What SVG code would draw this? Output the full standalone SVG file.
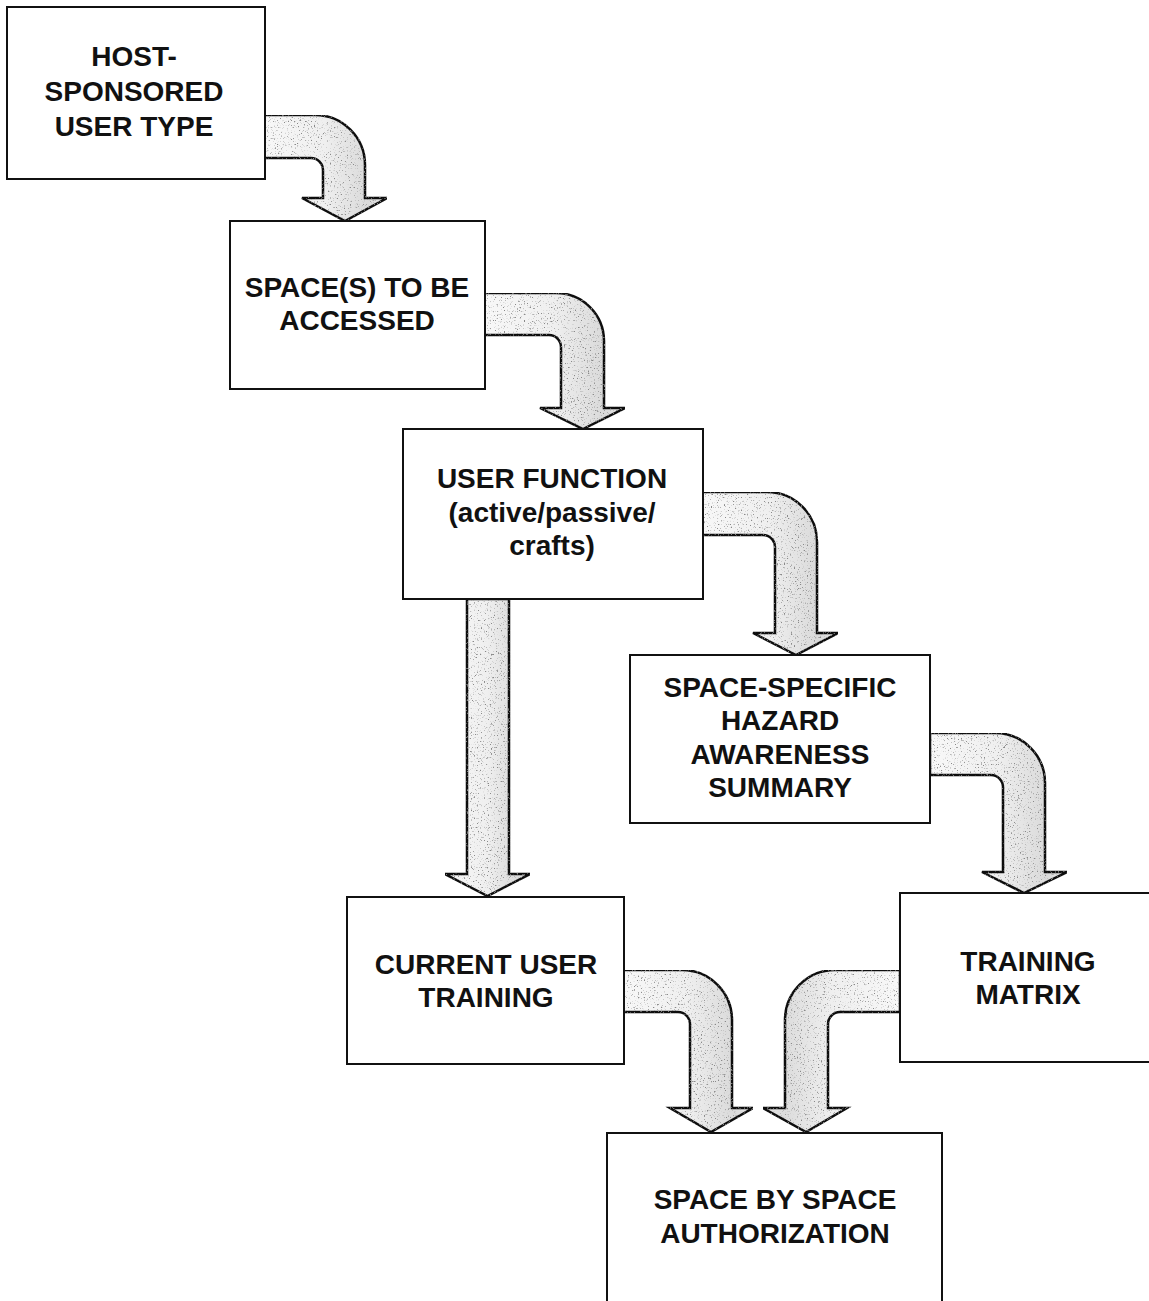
<svg xmlns="http://www.w3.org/2000/svg" width="1149" height="1301" viewBox="0 0 1149 1301">
  <style>
    .box { fill: #ffffff; stroke: #111111; stroke-width: 2; }
    .lbl { font-family: "Liberation Sans", Arial, sans-serif; font-weight: bold; font-size: 28px; fill: #111111; text-anchor: middle; }
    .arrow { stroke: #111111; stroke-width: 2.5; stroke-linejoin: miter; filter: url(#grain); }
    .turnR { fill: url(#shadeR); }
    .turnL { fill: url(#shadeL); }
  </style>
  <defs>
    <!-- shading: lighter where the arrow leaves a box, darker along the outer bend -->
    <linearGradient id="shadeR" x1="0" y1="0" x2="1" y2="0">
      <stop offset="0" stop-color="#f8f8f8"/>
      <stop offset="0.5" stop-color="#efefef"/>
      <stop offset="0.85" stop-color="#dadada"/>
      <stop offset="1" stop-color="#e6e6e6"/>
    </linearGradient>
    <linearGradient id="shadeL" x1="1" y1="0" x2="0" y2="0">
      <stop offset="0" stop-color="#f8f8f8"/>
      <stop offset="0.5" stop-color="#efefef"/>
      <stop offset="0.85" stop-color="#dcdcdc"/>
      <stop offset="1" stop-color="#e6e6e6"/>
    </linearGradient>
    <!-- speckled print texture for the arrow bodies -->
    <filter id="grain" x="0" y="0" width="1" height="1">
      <feTurbulence type="fractalNoise" baseFrequency="0.7" numOctaves="2" seed="7" result="noise"/>
      <feColorMatrix in="noise" type="matrix" values="0 0 0 0 0.25  0 0 0 0 0.25  0 0 0 0 0.25  6 0 0 0 -3.6" result="dots"/>
      <feComposite in="dots" in2="SourceGraphic" operator="in" result="speck"/>
      <feMerge>
        <feMergeNode in="SourceGraphic"/>
        <feMergeNode in="speck"/>
      </feMerge>
    </filter>
  </defs>

  <!-- connectors: broad bent block arrows -->
  <g id="connectors">
    <path id="a1" class="arrow turnR" d="M263 115 H315 A50 50 0 0 1 365 165 V198 H387 L345 221 L302 198 H323 V170 A12 12 0 0 0 311 158 H263 Z"/>
    <path id="a2" class="arrow turnR" d="M484 293 H556 A48 48 0 0 1 604 341 V408 H625 L583 429 L540 408 H561 V347 A12 12 0 0 0 549 335 H484 Z"/>
    <path id="a3" class="arrow turnR" d="M702 492 H767 A50 50 0 0 1 817 542 V633 H838 L796 655 L753 633 H775 V547 A12 12 0 0 0 763 535 H702 Z"/>
    <path id="a4" class="arrow turnR" d="M930 733 H995 A50 50 0 0 1 1045 783 V872 H1067 L1024 893 L982 872 H1003 V787 A12 12 0 0 0 991 775 H930 Z"/>
    <path id="a5" class="arrow turnR" d="M467 599 H509 V874 H530 L487.5 896 L445 874 H467 Z"/>
    <path id="a6" class="arrow turnR" d="M623 970 H682 A50 50 0 0 1 732 1020 V1108 H753 L711 1132 L670 1108 H690 V1024 A12 12 0 0 0 678 1012 H623 Z"/>
    <path id="a7" class="arrow turnL" d="M900 970 H835 A50 50 0 0 0 785 1020 V1108 H763 L806 1132 L847 1108 H828 V1024 A12 12 0 0 1 840 1012 H900 Z"/>
  </g>

  <g id="n-host-sponsored">
    <rect class="box" x="7" y="7" width="258" height="172"/>
    <text class="lbl" x="134" y="66">HOST-</text>
    <text class="lbl" x="134" y="101">SPONSORED</text>
    <text class="lbl" x="134" y="136">USER TYPE</text>
  </g>

  <g id="n-spaces">
    <rect class="box" x="230" y="221" width="255" height="168"/>
    <text class="lbl" x="357" y="297">SPACE(S) TO BE</text>
    <text class="lbl" x="357" y="330">ACCESSED</text>
  </g>

  <g id="n-user-function">
    <rect class="box" x="403" y="429" width="300" height="170"/>
    <text class="lbl" x="552" y="488">USER FUNCTION</text>
    <text class="lbl" x="552" y="522">(active/passive/</text>
    <text class="lbl" x="552" y="555">crafts)</text>
  </g>

  <g id="n-hazard-summary">
    <rect class="box" x="630" y="655" width="300" height="168"/>
    <text class="lbl" x="780" y="697">SPACE-SPECIFIC</text>
    <text class="lbl" x="780" y="730">HAZARD</text>
    <text class="lbl" x="780" y="764">AWARENESS</text>
    <text class="lbl" x="780" y="797">SUMMARY</text>
  </g>

  <g id="n-training-matrix">
    <rect class="box" x="900" y="893" width="270" height="169"/>
    <text class="lbl" x="1028" y="971">TRAINING</text>
    <text class="lbl" x="1028" y="1004">MATRIX</text>
  </g>

  <g id="n-current-training">
    <rect class="box" x="347" y="897" width="277" height="167"/>
    <text class="lbl" x="486" y="974">CURRENT USER</text>
    <text class="lbl" x="486" y="1007">TRAINING</text>
  </g>

  <g id="n-authorization">
    <rect class="box" x="607" y="1133" width="335" height="190"/>
    <text class="lbl" x="775" y="1209">SPACE BY SPACE</text>
    <text class="lbl" x="775" y="1243">AUTHORIZATION</text>
  </g>
</svg>
